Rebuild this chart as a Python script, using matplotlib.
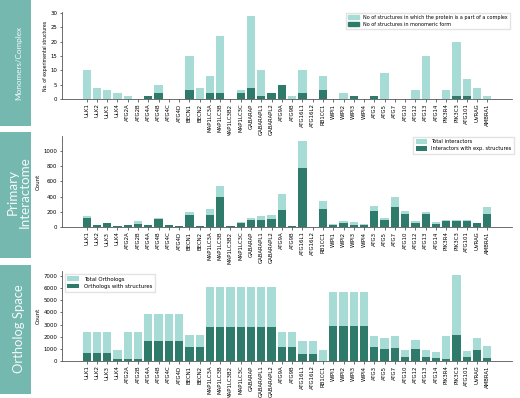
import matplotlib
matplotlib.use("Agg")
import matplotlib.pyplot as plt
import numpy as np

genes = ["ULK1", "ULK2", "ULK3", "ULK4", "ATG2A", "ATG2B", "ATG4A", "ATG4B", "ATG4C", "ATG4D",
         "BECN1", "BECN2", "MAP1LC3A", "MAP1LC3B", "MAP1LC3B2", "MAP1LC3C", "GABARAP", "GABARAPL1",
         "GABARAPL2", "ATG9A", "ATG9B", "ATG16L1", "ATG16L2", "RB1CC1", "WIPI1", "WIPI2", "WIPI3",
         "WIPI4", "ATG3", "ATG5", "ATG7", "ATG10", "ATG12", "ATG13", "ATG14", "PIK3R4", "PIK3C3",
         "ATG101", "UVRAG", "AMBRA1"]

# panel 1: structures
monomer = [0, 0, 0, 0, 0, 0, 1, 2, 0, 0,
           3, 0, 2, 2, 0, 2, 4, 1,
           2, 5, 0, 2, 0, 3, 0, 0, 1,
           0, 1, 0, 0, 0, 0, 0, 0, 0, 1,
           1, 0, 0]
complex_ = [10, 4, 3, 2, 1, 0, 0, 3, 0, 0,
            12, 4, 6, 20, 0, 1, 25, 9,
            0, 0, 1, 8, 0, 5, 0, 2, 0,
            0, 0, 9, 0, 0, 3, 15, 0, 3, 19,
            6, 4, 1]

# panel 2: interactome
total_inter = [145, 22, 55, 15, 30, 85, 22, 120, 30, 10,
               200, 8, 240, 545, 10, 70, 120, 150,
               155, 440, 13, 1135, 5, 348, 40, 75, 62,
               44, 273, 123, 392, 207, 79, 198, 62, 97, 97,
               88, 53, 264]
exp_inter = [115, 20, 50, 15, 30, 45, 22, 100, 30, 10,
             155, 8, 160, 395, 10, 57, 92, 97,
             110, 225, 13, 780, 5, 242, 31, 48, 31,
             26, 211, 92, 268, 176, 53, 176, 40, 75, 75,
             75, 53, 176]

# panel 3: orthologs
total_orth = [2380, 2380, 2380, 915, 2380, 2380, 3850, 3850, 3850, 3850,
              2130, 2130, 6120, 6120, 6120, 6120, 6120, 6120,
              6120, 2410, 2410, 1630, 1630, 890, 5680, 5680, 5680,
              5680, 2080, 1860, 2080, 915, 1745, 890, 775, 2050, 7090,
              800, 1860, 1245]
struct_orth = [640, 640, 640, 140, 140, 140, 1660, 1660, 1660, 1660,
               1135, 1135, 2770, 2770, 2770, 2770, 2770, 2770,
               2770, 1135, 1135, 550, 550, 20, 2910, 2910, 2910,
               2910, 1135, 1000, 1080, 330, 970, 305, 220, 140, 2130,
               330, 940, 275]

side_labels = ["Monomers/Complex", "Primary\nInteractome", "Ortholog Space"]

LIGHT = "#a7dcd6"
DARK = "#2e7a6b"
BOX = "#74b8b0"

W, H = 520, 398
fig = plt.figure(figsize=(5.2, 3.98), dpi=100)


def px_axes(x0, y0, x1, y1):
    return fig.add_axes([x0 / W, 1 - y1 / H, (x1 - x0) / W, (y1 - y0) / H])


x = np.arange(len(genes))


def style(ax, ymax, ylabel, ylabel_size):
    ax.set_xlim(-2.4, len(genes) + 1.4)
    ax.set_ylim(0, ymax)
    ax.spines["top"].set_visible(False)
    ax.spines["right"].set_visible(False)
    for s in ["left", "bottom"]:
        ax.spines[s].set_linewidth(0.6)
        ax.spines[s].set_color("#555555")
    ax.set_xticks(x)
    ax.set_xticklabels(genes, rotation=90, fontsize=3.9)
    ax.tick_params(axis="both", length=1.8, width=0.4, pad=1.5, labelsize=3.9)
    ax.set_ylabel(ylabel, fontsize=ylabel_size, labelpad=2)


def legend(ax, **kw):
    return ax.legend(frameon=True, handlelength=2.2, handleheight=0.9, borderpad=0.5,
                     labelspacing=0.4, fancybox=False, edgecolor="#dddddd", **kw)


# panel 1
ax1 = px_axes(62, 12, 512, 99)
ax1.bar(x, monomer, width=0.8, color=DARK)
ax1.bar(x, complex_, bottom=monomer, width=0.8, color=LIGHT)
style(ax1, 30.3, "No. of experimental structures", 3.3)
ax1.set_yticks([0, 5, 10, 15, 20, 25, 30])
h1 = [plt.Rectangle((0, 0), 1, 1, color=LIGHT), plt.Rectangle((0, 0), 1, 1, color=DARK)]
legend(ax1, handles=h1,
       labels=["No of structures in which the protein is a part of a complex",
               "No of structures in monomeric form"],
       loc="upper right", bbox_to_anchor=(1.0, 1.02), fontsize=3.5)

# panel 2
ax2 = px_axes(62, 136, 512, 227)
ax2.bar(x, total_inter, width=0.8, color=LIGHT, label="Total interactors")
ax2.bar(x, exp_inter, width=0.8, color=DARK, label="Interactors with exp. structures")
style(ax2, 1200, "Count", 4)
ax2.set_yticks([0, 200, 400, 600, 800, 1000])
legend(ax2, loc="upper right", bbox_to_anchor=(1.01, 1.02), fontsize=3.7)

# panel 3
ax3 = px_axes(62, 271, 512, 361)
ax3.bar(x, total_orth, width=0.8, color=LIGHT, label="Total Orthologs")
ax3.bar(x, struct_orth, width=0.8, color=DARK, label="Orthologs with structures")
style(ax3, 7400, "Count", 4)
ax3.set_yticks([0, 1000, 2000, 3000, 4000, 5000, 6000, 7000])
legend(ax3, loc="upper left", bbox_to_anchor=(0.0, 1.0), fontsize=3.9)

# teal side boxes
boxes = [(0, 126, 5.9, 0.5), (132, 258, 9.6, 0.52), (265, 394, 9.4, 0.51)]
for (top, bot, fs, yc), label in zip(boxes, side_labels):
    bx = px_axes(0, top, 31, bot)
    bx.set_facecolor(BOX)
    bx.set_xticks([])
    bx.set_yticks([])
    for s in bx.spines.values():
        s.set_visible(False)
    bx.text(0.6, yc, label, rotation=90, ha="center", va="center", color="white", alpha=0.92,
            fontsize=fs, family=["Lato", "DejaVu Sans"], fontweight="normal", linespacing=0.95,
            transform=bx.transAxes)

fig.savefig("out.png", dpi=100)
